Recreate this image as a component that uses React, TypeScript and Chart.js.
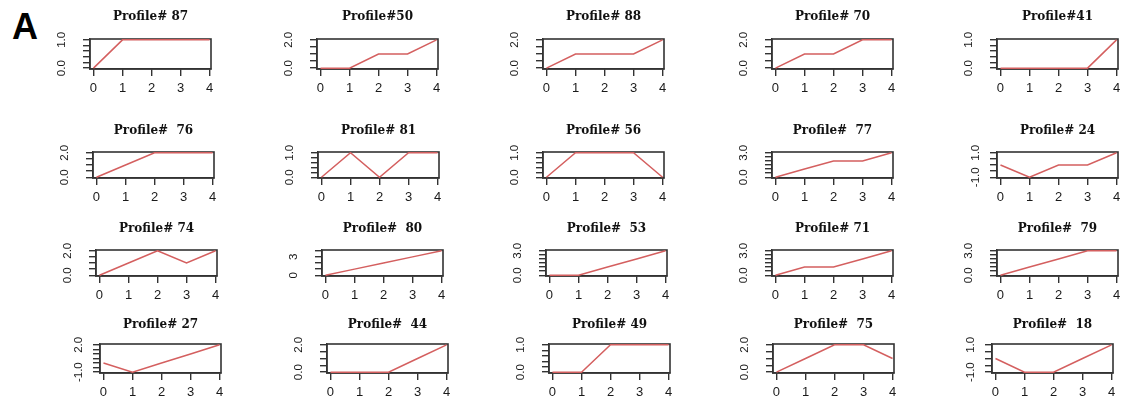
import React, { useEffect, useRef } from "react";
import { Chart, registerables } from "chart.js";

Chart.register(...registerables);

// ---------- data ----------
const xCategories = [0, 1, 2, 3, 4];

const profileTitles = [
  "Profile# 87", "Profile#50", "Profile# 88", "Profile# 70", "Profile#41",
  "Profile#  76", "Profile# 81", "Profile# 56", "Profile#  77", "Profile# 24",
  "Profile# 74", "Profile#  80", "Profile#  53", "Profile# 71", "Profile#  79",
  "Profile# 27", "Profile#  44", "Profile# 49", "Profile#  75", "Profile#  18",
];

const p87 = [0, 1, 1, 1, 1];
const p50 = [0, 0, 1, 1, 2];
const p88 = [0, 1, 1, 1, 2];
const p70 = [0, 1, 1, 2, 2];
const p41 = [0, 0, 0, 0, 1];
const p76 = [0, 1, 2, 2, 2];
const p81 = [0, 1, 0, 1, 1];
const p56 = [0, 1, 1, 1, 0];
const p77 = [0, 1, 2, 2, 3];
const p24 = [0, -1, 0, 0, 1];
const p74 = [0, 1, 2, 1, 2];
const p80 = [0, 1, 2, 3, 4];
const p53 = [0, 0, 1, 2, 3];
const p71 = [0, 1, 1, 2, 3];
const p79 = [0, 1, 2, 3, 3];
const p27 = [0, -1, 0, 1, 2];
const p44 = [0, 0, 0, 1, 2];
const p49 = [0, 0, 1, 1, 1];
const p75 = [0, 1, 2, 2, 1];
const p18 = [0, -1, -1, 0, 1];

const profileSeries = [
  p87, p50, p88, p70, p41,
  p76, p81, p56, p77, p24,
  p74, p80, p53, p71, p79,
  p27, p44, p49, p75, p18,
];

// y tick sets (R minor/major tick positions)
const ticks01 = [0, 0.2, 0.4, 0.6, 0.8, 1];
const ticks02 = [0, 0.5, 1, 1.5, 2];
const ticks03 = [0, 0.5, 1, 1.5, 2, 2.5, 3];
const ticks04 = [0, 1, 2, 3, 4];
const ticksM11 = [-1, -0.5, 0, 0.5, 1];
const ticksM12 = [-1, -0.5, 0, 0.5, 1, 1.5, 2];

const yTickSets = [
  ticks01, ticks02, ticks02, ticks02, ticks01,
  ticks02, ticks01, ticks01, ticks03, ticksM11,
  ticks02, ticks04, ticks03, ticks03, ticks03,
  ticksM12, ticks02, ticks01, ticks02, ticksM11,
];

const yLabelValues = [
  [0, 1], [0, 2], [0, 2], [0, 2], [0, 1],
  [0, 2], [0, 1], [0, 1], [0, 3], [-1, 1],
  [0, 2], [0, 3], [0, 3], [0, 3], [0, 3],
  [-1, 2], [0, 2], [0, 1], [0, 2], [-1, 1],
];

const yLabelTexts = [
  ["0.0", "1.0"], ["0.0", "2.0"], ["0.0", "2.0"], ["0.0", "2.0"], ["0.0", "1.0"],
  ["0.0", "2.0"], ["0.0", "1.0"], ["0.0", "1.0"], ["0.0", "3.0"], ["-1.0", "1.0"],
  ["0.0", "2.0"], ["0", "3"], ["0.0", "3.0"], ["0.0", "3.0"], ["0.0", "3.0"],
  ["-1.0", "2.0"], ["0.0", "2.0"], ["0.0", "1.0"], ["0.0", "2.0"], ["-1.0", "1.0"],
];

// ---------- layout ----------
const boxLefts = [
  90, 317, 543, 772, 997,
  93, 318, 543, 772, 997,
  96, 322, 546, 772, 997,
  100, 327, 549, 773, 992,
];
const BOX_W = 121;
const rowTops = [39, 152, 250, 344];
const rowBottoms = [69, 178, 276, 373];
const titleGaps = [22, 21, 21, 19];

const L = 60; // space left of box
const R = 14; // space right of box
const T = 36; // space above box
const B = 30; // space below box

const LINE = "#d45f5f";
const AX = "#333333";
const SANS = '"Liberation Sans", Arial, sans-serif';
const SERIF = '"DejaVu Serif", serif';
const TITLE_SIZE = 12;

let measureCtx: CanvasRenderingContext2D | null = null;
function measure(text: string, font: string) {
  if (!measureCtx) measureCtx = document.createElement("canvas").getContext("2d");
  measureCtx!.font = font;
  return measureCtx!.measureText(text).width;
}

const boxPlugin = {
  id: "rbox",
  beforeDatasetsDraw(chart: any) {
    const { ctx, chartArea: a } = chart;
    ctx.save();
    ctx.strokeStyle = AX;
    ctx.lineWidth = 1.6;
    ctx.strokeRect(a.left, a.top, a.right - a.left, a.bottom - a.top);
    ctx.restore();
  },
};

function Panel({ idx }: { idx: number }) {
  const ref = useRef<HTMLCanvasElement>(null);
  const row = Math.floor(idx / 5);
  const boxTop = rowTops[row];
  const boxH = rowBottoms[row] - rowTops[row];
  const width = L + BOX_W + R;
  const height = T + boxH + B;
  const left = boxLefts[idx] - L;
  const top = boxTop - T;

  useEffect(() => {
    const values = profileSeries[idx];
    const tickSet = yTickSets[idx];
    const lo = tickSet[0];
    const hi = tickSet[tickSet.length - 1];
    const pad = (hi - lo) * 0.03;
    const labVals = yLabelValues[idx];
    const labTxt = yLabelTexts[idx];
    const negative = lo < 0;
    const gap = negative ? 21 : 28;
    const widest = Math.max(...labTxt.map((t) => measure(t, `11.5px ${SANS}`)));
    const yTickLen = 7;
    const yPad = gap - yTickLen - widest / 2;
    const lh = TITLE_SIZE * 1.2;
    const titlePadTop = T - titleGaps[row] - lh / 2;
    const titlePadBottom = T - titlePadTop - lh;

    const chart = new Chart(ref.current!, {
      type: "line",
      data: {
        datasets: [
          {
            data: values.map((v, i) => ({ x: xCategories[i], y: v })),
            borderColor: LINE,
            borderWidth: 1.5,
            pointRadius: 0,
            tension: 0,
            fill: false,
          },
        ],
      },
      options: {
        responsive: false,
        animation: false,
        events: [],
        layout: { padding: { left: 0, right: R, top: 0, bottom: 0 } },
        plugins: {
          legend: { display: false },
          tooltip: { enabled: false },
          title: {
            display: true,
            text: profileTitles[idx],
            fullSize: false,
            color: "#111",
            font: { family: SERIF, weight: "bold", size: TITLE_SIZE, lineHeight: 1.2 },
            padding: { top: titlePadTop, bottom: titlePadBottom },
          },
        },
        scales: {
          x: {
            type: "linear",
            min: -0.12,
            max: 4.05,
            afterBuildTicks: (s: any) => {
              s.ticks = xCategories.map((v) => ({ value: v }));
            },
            afterFit: (s: any) => {
              s.height = B;
            },
            grid: { drawOnChartArea: false, drawTicks: true, tickLength: 7, color: AX, lineWidth: 1.4 },
            border: { display: true, color: AX, width: 1.4 },
            ticks: {
              autoSkip: false,
              minRotation: 0,
              maxRotation: 0,
              padding: 5,
              color: "#1a1a1a",
              font: { family: SANS, size: 13 },
              callback: (v: any) => String(v),
            },
          },
          y: {
            type: "linear",
            min: lo - pad,
            max: hi + pad,
            afterBuildTicks: (s: any) => {
              s.ticks = tickSet.map((v) => ({ value: v }));
            },
            afterFit: (s: any) => {
              s.width = L;
            },
            grid: { drawOnChartArea: false, drawTicks: true, tickLength: yTickLen, color: AX, lineWidth: 1.4 },
            border: { display: true, color: AX, width: 1.4 },
            ticks: {
              autoSkip: false,
              minRotation: 90,
              maxRotation: 90,
              crossAlign: "center",
              padding: yPad,
              color: "#1a1a1a",
              font: { family: SANS, size: 11.5 },
              callback: (v: any) => {
                const k = labVals.findIndex((lv) => Math.abs(lv - Number(v)) < 1e-9);
                return k >= 0 ? labTxt[k] : "";
              },
            },
          },
        },
      } as any,
      plugins: [boxPlugin],
    });
    return () => chart.destroy();
  }, [idx]);

  return (
    <div style={{ position: "absolute", left, top, width, height }}>
      <canvas ref={ref} width={width} height={height} style={{ width, height, display: "block" }} />
    </div>
  );
}

export default function App() {
  return (
    <div
      style={{
        position: "absolute",
        left: 0,
        top: 0,
        width: 1138,
        height: 411,
        background: "#fff",
        overflow: "hidden",
      }}
    >
      <div
        style={{
          position: "absolute",
          left: 12,
          top: 9,
          fontFamily: SANS,
          fontWeight: "bold",
          fontSize: 36,
          lineHeight: "36px",
          color: "#000",
        }}
      >
        A
      </div>
      {profileTitles.map((_, i) => (
        <Panel key={i} idx={i} />
      ))}
    </div>
  );
}
